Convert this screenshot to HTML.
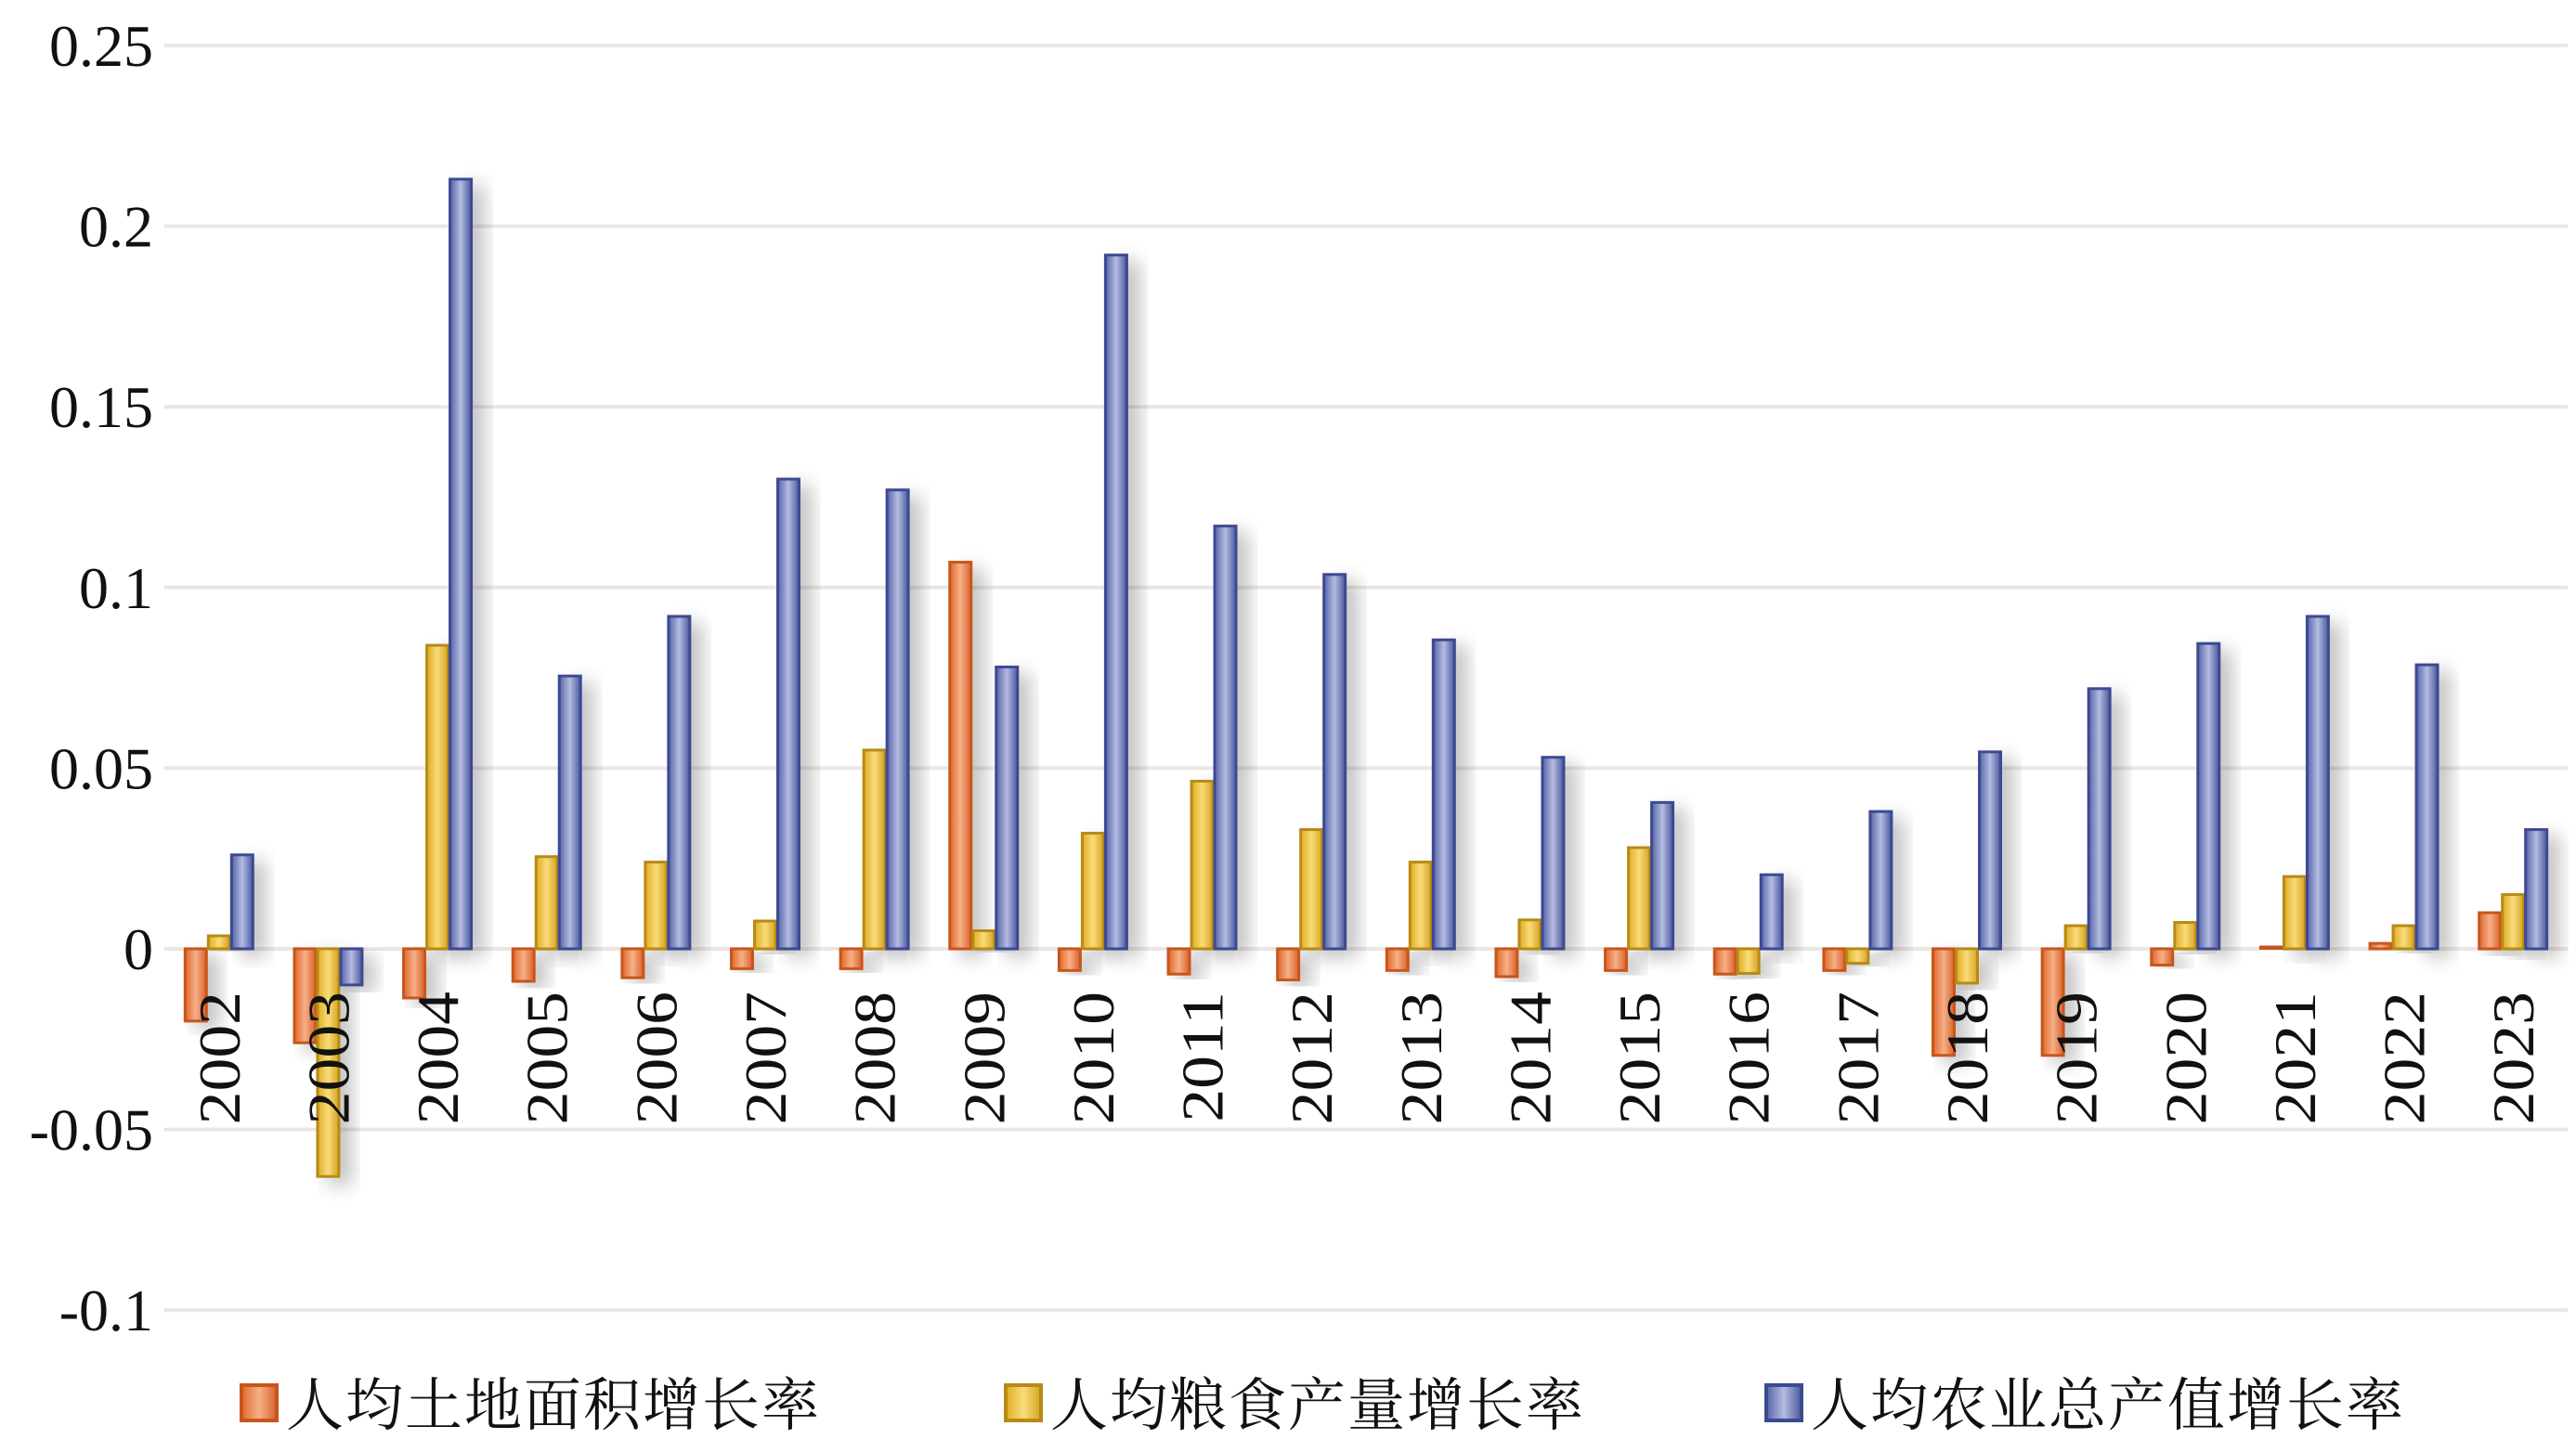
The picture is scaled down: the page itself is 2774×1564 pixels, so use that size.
<!DOCTYPE html>
<html><head><meta charset="utf-8">
<style>
html,body{margin:0;padding:0;background:#fff;}
svg{display:block;}
</style></head>
<body>
<svg id="chart" width="2774" height="1564" viewBox="0 0 2774 1564" xmlns="http://www.w3.org/2000/svg">
<defs>
<linearGradient id="gO" x1="0" x2="1" y1="0" y2="0"><stop offset="0" stop-color="#e0672a"/><stop offset="0.5" stop-color="#f6b088"/><stop offset="1" stop-color="#d8622a"/></linearGradient>
<linearGradient id="gY" x1="0" x2="1" y1="0" y2="0"><stop offset="0" stop-color="#e0ac22"/><stop offset="0.5" stop-color="#f8dc7a"/><stop offset="1" stop-color="#d6a420"/></linearGradient>
<linearGradient id="gB" x1="0" x2="1" y1="0" y2="0"><stop offset="0" stop-color="#5563a8"/><stop offset="0.5" stop-color="#b4bce0"/><stop offset="1" stop-color="#4a589e"/></linearGradient>
<filter id="sh" x="-50%" y="-20%" width="250%" height="140%"><feGaussianBlur in="SourceAlpha" stdDeviation="10"/><feOffset dx="12" dy="8"/><feComponentTransfer><feFuncA type="linear" slope="0.25"/></feComponentTransfer><feMerge><feMergeNode/><feMergeNode in="SourceGraphic"/></feMerge></filter>
</defs>
<g id="grid"></g><g id="ylab"></g><g id="bars"></g><g id="xlab"></g><g id="legend"></g>
</svg>
<script>
const years=["2002","2003","2004","2005","2006","2007","2008","2009","2010","2011","2012","2013","2014","2015","2016","2017","2018","2019","2020","2021","2022","2023"];
const landRate=[-0.020,-0.026,-0.0136,-0.009,-0.008,-0.0055,-0.0055,0.107,-0.006,-0.007,-0.0086,-0.006,-0.0077,-0.006,-0.007,-0.006,-0.0295,-0.0295,-0.0045,0.0007,0.0015,0.010];
const grainRate=[0.0036,-0.063,0.084,0.0255,0.024,0.0077,0.055,0.005,0.032,0.0464,0.033,0.024,0.008,0.028,-0.0068,-0.004,-0.0095,0.0064,0.0073,0.020,0.0064,0.015];
const agriRate=[0.026,-0.010,0.213,0.0755,0.092,0.130,0.127,0.078,0.192,0.117,0.1036,0.0855,0.053,0.0405,0.0205,0.038,0.0545,0.072,0.0845,0.092,0.0786,0.033];
const yTicks=[0.25,0.2,0.15,0.1,0.05,0,-0.05,-0.1];
const yTickLabels=["0.25","0.2","0.15","0.1","0.05","0","-0.05","-0.1"];
const seriesNames=["人均土地面积增长率","人均粮食产量增长率","人均农业总产值增长率"];

const NS="http://www.w3.org/2000/svg";
const L=177,R=2765,Y0=1022,PX=194.6/0.05;
function y(v){return Y0-v*PX;}
function xc(i){const w=(R-L)/years.length;return L+w*(i+0.5);}
function mk(tag,attrs,parent){const e=document.createElementNS(NS,tag);for(const k in attrs)e.setAttribute(k,attrs[k]);parent.appendChild(e);return e;}
const grid=document.getElementById('grid'),ylab=document.getElementById('ylab'),bars=document.getElementById('bars'),xlab=document.getElementById('xlab'),leg=document.getElementById('legend');
yTicks.forEach((t,i)=>{
  const ln=mk('line',{x1:L,x2:R,y1:y(t),y2:y(t),stroke:'#ece6e2','stroke-width':4},grid);
  
  
  const tx=mk('text',{x:165,y:y(t)+22,'text-anchor':'end','font-family':'"Liberation Serif",serif','font-size':64,fill:'#111'},ylab);
  tx.textContent=yTickLabels[i];
  
  
});
const series=[landRate,grainRate,agriRate];
const fills=['url(#gO)','url(#gY)','url(#gB)'];
const strokes=['#c8561c','#b88a14','#3c4a92'];
const offs=[-25,0,25],BW=23;
years.forEach((yr,i)=>{
  series.forEach((s,k)=>{
    const v=s[i];const top=Math.min(y(v),Y0),h=Math.max(Math.abs(y(v)-Y0),1.5);
    const r=mk('rect',{x:xc(i)+offs[k]-BW/2,y:top,width:BW,height:h,fill:fills[k],stroke:strokes[k],'stroke-width':3,filter:'url(#sh)'},bars);
    
    
  });
  const t=mk('text',{x:0,y:0,transform:`translate(${xc(i)+22},1068) rotate(-90) scale(1.12,1)`,'text-anchor':'end','font-family':'"Liberation Serif",serif','font-size':64,fill:'#111'},xlab);
  t.textContent=yr;
  
  
});
const lx=[260,1083,1902];
seriesNames.forEach((n,k)=>{
  const g=mk('g',{},leg);
  
  
  mk('rect',{x:lx[k],y:1492,width:38,height:38,fill:fills[k],stroke:strokes[k],'stroke-width':4},g);
  const t=mk('text',{x:lx[k]+48,y:1535,'font-family':'"Liberation Serif","Noto Serif CJK SC",serif','font-size':62,'letter-spacing':2,fill:'#111'},g);
  t.textContent=n;
});
</script>
</body></html>
